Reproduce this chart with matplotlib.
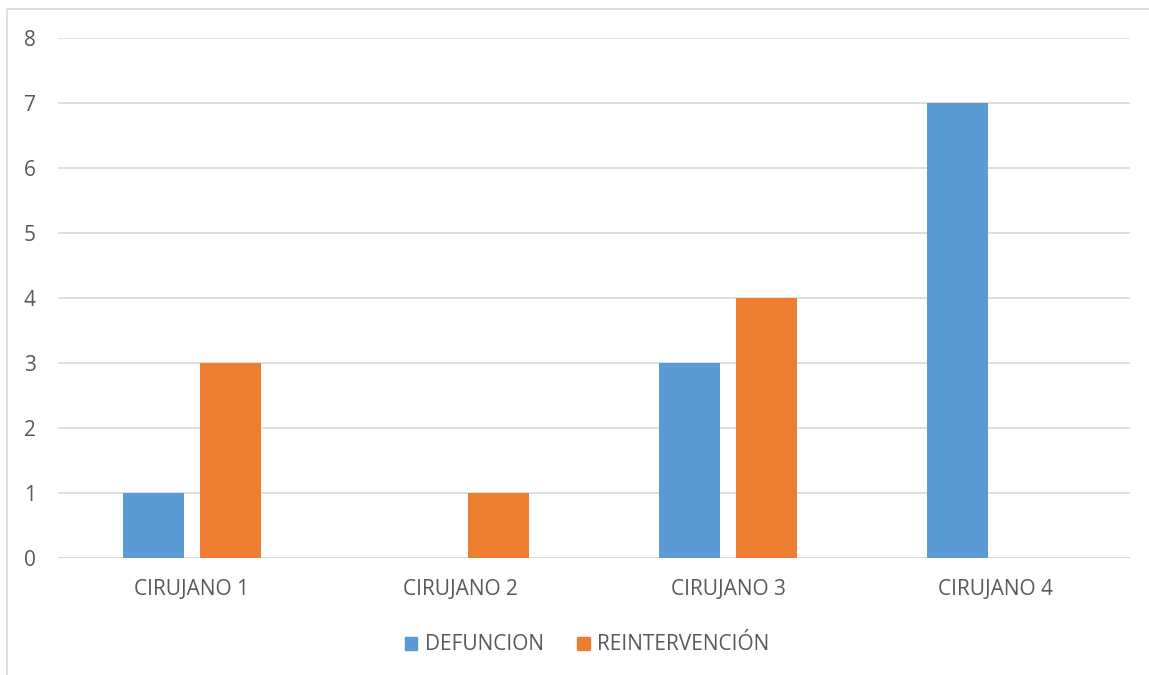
import numpy as np
import matplotlib.pyplot as plt
from matplotlib.patches import Rectangle, Patch

# datos
cirujanos = ['CIRUJANO 1', 'CIRUJANO 2', 'CIRUJANO 3', 'CIRUJANO 4']
defuncion = [1, 0, 3, 7]
reintervencion = [3, 1, 4, 0]
series = ['DEFUNCION', 'REINTERVENCIÓN']

azul = '#5b9bd5'
naranja = '#ed7d31'
gris_txt = '#595959'
gris_lin = '#d9d9d9'

plt.rcParams['font.family'] = ['Open Sans', 'DejaVu Sans']

W, H = 1149, 675
fig = plt.figure(figsize=(W / 100, H / 100), dpi=100)
# marco del grafico (izquierda y arriba)
fig.patches.append(Rectangle((7 / W, -0.1), 1.2, 1 - 9 / H + 0.1, transform=fig.transFigure,
                             fill=False, edgecolor=gris_lin, linewidth=1.2))

ax = fig.add_axes([58 / W, 1 - 558 / H, (1130 - 58) / W, (558 - 38) / H])
x = np.arange(len(cirujanos))
ancho = 0.224
desp = 0.1437
ax.bar(x - desp, defuncion, ancho, color=azul, zorder=3)
ax.bar(x + desp, reintervencion, ancho, color=naranja, zorder=3)

ax.set_xlim(-0.5, len(cirujanos) - 0.5)
ax.set_ylim(0, 8)
ax.set_yticks(range(0, 9))
ax.yaxis.grid(True, color=gris_lin, linewidth=1.2, zorder=0)
ax.set_xticks(x)
ax.set_xticklabels(cirujanos)
for s in ax.spines.values():
    s.set_visible(False)
ax.tick_params(axis='both', length=0, labelsize=15, labelcolor=gris_txt)
ax.tick_params(axis='y', pad=16)
ax.tick_params(axis='x', pad=15)
ax.axhline(0, color=gris_lin, linewidth=1.2, zorder=2)

handles = [Patch(color=azul), Patch(color=naranja)]
fig.legend(handles, series, loc='center', bbox_to_anchor=(587 / W, 1 - 645 / H), ncol=2,
           frameon=False, fontsize=15, labelcolor=gris_txt, handlelength=0.6, handleheight=0.6,
           handletextpad=0.35, columnspacing=1.6)

fig.savefig('out.png', dpi=100)
